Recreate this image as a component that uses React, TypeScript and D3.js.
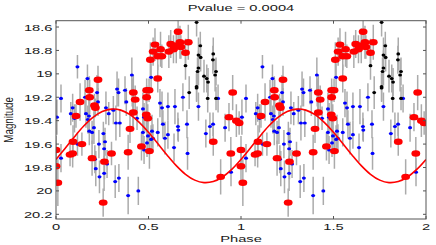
import React from 'react';
import * as d3 from 'd3';

// ---------- data (phase in [0,1), folded; plotted twice: phase and phase+1) ----------
// [phase, magnitude, error]
const redPoints: [number, number, number][] = [
  [0.000, 19.65, 0.12], [0.000, 19.79, 0.16], [0.010, 19.93, 0.20], [0.076, 19.69, 0.10],
  [0.090, 19.68, 0.12], [0.092, 19.58, 0.14], [0.108, 19.36, 0.10], [0.130, 19.24, 0.16],
  [0.140, 19.60, 0.10], [0.180, 19.14, 0.12], [0.182, 19.20, 0.15], [0.195, 19.72, 0.15],
  [0.208, 19.27, 0.10], [0.213, 19.29, 0.08], [0.227, 19.05, 0.12], [0.255, 20.10, 0.12],
  [0.262, 19.75, 0.15], [0.300, 19.68, 0.10], [0.390, 19.67, 0.15], [0.400, 19.47, 0.12],
  [0.418, 19.16, 0.15], [0.428, 19.22, 0.12], [0.418, 19.33, 0.15], [0.462, 19.62, 0.12],
  [0.490, 19.14, 0.10], [0.503, 19.14, 0.10], [0.490, 19.20, 0.10], [0.488, 19.35, 0.15],
  [0.496, 19.38, 0.12], [0.505, 19.66, 0.15], [0.550, 19.04, 0.12], [0.510, 18.88, 0.15],
  [0.525, 18.81, 0.12], [0.535, 18.75, 0.14], [0.550, 18.85, 0.12], [0.565, 18.79, 0.15],
  [0.572, 18.85, 0.10], [0.610, 18.81, 0.14], [0.620, 18.745, 0.12], [0.635, 18.79, 0.12],
  [0.650, 18.76, 0.15], [0.660, 18.64, 0.12], [0.670, 18.73, 0.14], [0.675, 18.77, 0.10],
  [0.700, 18.82, 0.12], [0.715, 18.73, 0.15], [0.850, 19.58, 0.12], [0.890, 19.88, 0.15],
  [0.945, 19.68, 0.14], [0.955, 19.16, 0.15], [0.935, 19.37, 0.12], [0.975, 19.40, 0.14],
  [0.990, 19.42, 0.10],
];

const bluePoints: [number, number, number][] = [
  [0.116, 18.94, 0.10], [0.027, 19.21, 0.12], [0.005, 19.37, 0.15], [0.090, 19.29, 0.12],
  [0.080, 19.34, 0.10], [0.100, 19.38, 0.12], [0.170, 19.04, 0.12], [0.157, 19.20, 0.15],
  [0.162, 19.34, 0.12], [0.178, 19.36, 0.15], [0.172, 19.39, 0.12], [0.222, 19.16, 0.15],
  [0.227, 19.24, 0.12], [0.270, 19.29, 0.14], [0.285, 19.34, 0.10], [0.310, 19.31, 0.12],
  [0.330, 19.13, 0.15], [0.338, 19.16, 0.12], [0.324, 19.42, 0.15], [0.345, 19.42, 0.12],
  [0.380, 19.24, 0.12], [0.373, 19.14, 0.12], [0.410, 19.01, 0.15], [0.412, 19.16, 0.12],
  [0.416, 19.34, 0.12], [0.438, 19.38, 0.10], [0.470, 19.30, 0.14], [0.476, 19.37, 0.12],
  [0.514, 19.03, 0.12], [0.562, 19.25, 0.12], [0.573, 19.29, 0.14], [0.605, 19.28, 0.12],
  [0.643, 19.28, 0.15], [0.686, 19.20, 0.12], [0.770, 19.28, 0.12], [0.876, 19.21, 0.12],
  [0.027, 19.72, 0.12], [0.116, 19.60, 0.10], [0.180, 19.49, 0.12], [0.195, 19.50, 0.10],
  [0.205, 19.46, 0.14], [0.210, 19.73, 0.12], [0.215, 19.81, 0.15], [0.232, 19.60, 0.12],
  [0.235, 19.88, 0.14], [0.260, 19.64, 0.12], [0.265, 19.58, 0.12], [0.256, 19.51, 0.10],
  [0.260, 19.85, 0.15], [0.276, 19.77, 0.12], [0.320, 19.92, 0.14], [0.340, 19.89, 0.12],
  [0.390, 20.04, 0.16], [0.445, 20.00, 0.12], [0.470, 19.50, 0.15], [0.492, 19.59, 0.12],
  [0.497, 19.53, 0.12], [0.514, 19.56, 0.12], [0.519, 19.49, 0.14], [0.524, 19.55, 0.12],
  [0.476, 19.65, 0.12], [0.550, 19.50, 0.12], [0.578, 19.43, 0.12], [0.589, 19.55, 0.14],
  [0.605, 19.52, 0.12], [0.638, 19.63, 0.12], [0.659, 19.45, 0.12], [0.661, 19.48, 0.10],
  [0.708, 19.43, 0.12], [0.711, 19.68, 0.14], [0.810, 19.51, 0.12], [0.832, 19.45, 0.12],
  [0.849, 19.43, 0.10], [0.914, 19.46, 0.12], [0.946, 19.84, 0.12],
];

const blackPoints: [number, number, number][] = [
  [0.760, 18.56, 0.12], [0.780, 18.76, 0.12], [0.770, 18.84, 0.15], [0.782, 18.86, 0.12],
  [0.700, 18.93, 0.12], [0.770, 18.95, 0.15], [0.765, 18.98, 0.12], [0.800, 19.02, 0.14],
  [0.815, 19.04, 0.12], [0.822, 19.07, 0.12], [0.850, 18.83, 0.14], [0.848, 18.88, 0.12],
  [0.865, 18.98, 0.12], [0.860, 19.01, 0.14], [0.760, 19.11, 0.12], [0.720, 19.16, 0.14],
  [0.760, 19.12, 0.12], [0.820, 19.21, 0.12], [0.865, 19.21, 0.10],
];

// model curve read at phase steps of 0.05
const curvePhase = [0, 0.05, 0.1, 0.15, 0.2, 0.25, 0.3, 0.35, 0.4, 0.45, 0.5, 0.55, 0.6, 0.65, 0.7, 0.75, 0.8, 0.85, 0.9, 0.95];
const curveMag = [19.731, 19.635, 19.537, 19.446, 19.372, 19.322, 19.301, 19.310, 19.349, 19.414, 19.499, 19.595, 19.693, 19.784, 19.858, 19.908, 19.929, 19.920, 19.881, 19.816];

const xTicks = [0, 0.5, 1, 1.5, 2];
const xTickLabels = ['0', '0.5', '1', '1.5', '2'];
const yTicks = [18.6, 18.8, 19, 19.2, 19.4, 19.6, 19.8, 20, 20.2];
const yTickLabels = ['18.6', '18.8', '19', '19.2', '19.4', '19.6', '19.8', '20', '20.2'];

const titleText = 'Pvalue = 0.0004';
const xLabel = 'Phase';
const yLabel = 'Magnitude';

// ---------- layout ----------
const W = 436, H = 245;
const L = 56, R = 426, T = 20.7, B = 219;
const SX = 1.5; // horizontal stretch of the original picture
const FONT = '"Liberation Sans", Arial, Helvetica, sans-serif';
const FS = 9.8;

const x = d3.scaleLinear().domain([0, 2]).range([L, R]);
const y = d3.scaleLinear().domain([18.546, 20.24]).range([T, B]);

const dup = (pts: [number, number, number][]) =>
  pts.flatMap(([p, m, e]) => [[p, m, e], [p + 1, m, e]] as [number, number, number][]);

const SText = ({ tx, ty, anchor = 'middle', children, rotate = false, sx = SX }: any) => (
  <text
    transform={rotate ? `translate(${tx},${ty}) rotate(-90) scale(1,${sx})` : `translate(${tx},${ty}) scale(${sx},1)`}
    textAnchor={anchor}
    fontFamily={FONT}
    fontSize={FS}
    fill="#1a1a1a"
  >
    {children}
  </text>
);

export default function App() {
  const red = dup(redPoints);
  const blue = dup(bluePoints);
  const black = dup(blackPoints);
  const all = [...blue, ...black, ...red];

  const curveData: [number, number][] = [];
  for (let k = 0; k < 2; k++) curvePhase.forEach((p, i) => curveData.push([p + k, curveMag[i]]));
  curveData.push([2, curveMag[0]]);
  const line = d3.line<[number, number]>().x(d => x(d[0])).y(d => y(d[1])).curve(d3.curveCatmullRom);

  const tl = 3;
  return (
    <svg width={W} height={H} style={{ position: 'absolute', left: 0, top: 0, background: '#fff' }}>
      <defs>
        <clipPath id="plotclip">
          <rect x={L} y={T} width={R - L} height={B - T} />
        </clipPath>
      </defs>
      <rect x={0} y={0} width={W} height={H} fill="#fff" />
      <g clipPath="url(#plotclip)">
        {all.map(([p, m, e], i) => (
          <line key={'e' + i} x1={x(p)} x2={x(p)} y1={y(m - e)} y2={y(m + e)} stroke="#ababab" strokeWidth={1.5} />
        ))}
        {blue.map(([p, m], i) => (
          <ellipse key={'b' + i} cx={x(p)} cy={y(m)} rx={2} ry={1.6} fill="#0000ff" />
        ))}
        {black.map(([p, m], i) => (
          <ellipse key={'k' + i} cx={x(p)} cy={y(m)} rx={1.9} ry={1.6} fill="#000" />
        ))}
        {red.map(([p, m], i) => (
          <ellipse key={'r' + i} cx={x(p)} cy={y(m)} rx={4.4} ry={3.2} fill="#ff0000" />
        ))}
        <path d={line(curveData) || ''} fill="none" stroke="#ff0000" strokeWidth={1.6} />
      </g>
      {/* frame */}
      <rect x={L} y={T} width={R - L} height={B - T} fill="none" stroke="#555" strokeWidth={1} />
      {xTicks.map((t, i) => (
        <g key={'xt' + i}>
          <line x1={x(t)} x2={x(t)} y1={B} y2={B - tl} stroke="#555" />
          <line x1={x(t)} x2={x(t)} y1={T} y2={T + tl} stroke="#555" />
          <SText tx={x(t)} ty={230}>{xTickLabels[i]}</SText>
        </g>
      ))}
      {yTicks.map((t, i) => (
        <g key={'yt' + i}>
          <line x1={L} x2={L + tl} y1={y(t)} y2={y(t)} stroke="#555" />
          <line x1={R} x2={R - tl} y1={y(t)} y2={y(t)} stroke="#555" />
          <SText tx={52.5} ty={y(t) + 3.5} anchor="end">{yTickLabels[i]}</SText>
        </g>
      ))}
      <SText tx={(L + R) / 2} ty={10.5}>{titleText}</SText>
      <SText tx={(L + R) / 2} ty={241.5}>{xLabel}</SText>
      <SText tx={12.5} ty={(T + B) / 2} rotate sx={1.35}>{yLabel}</SText>
    </svg>
  );
}
